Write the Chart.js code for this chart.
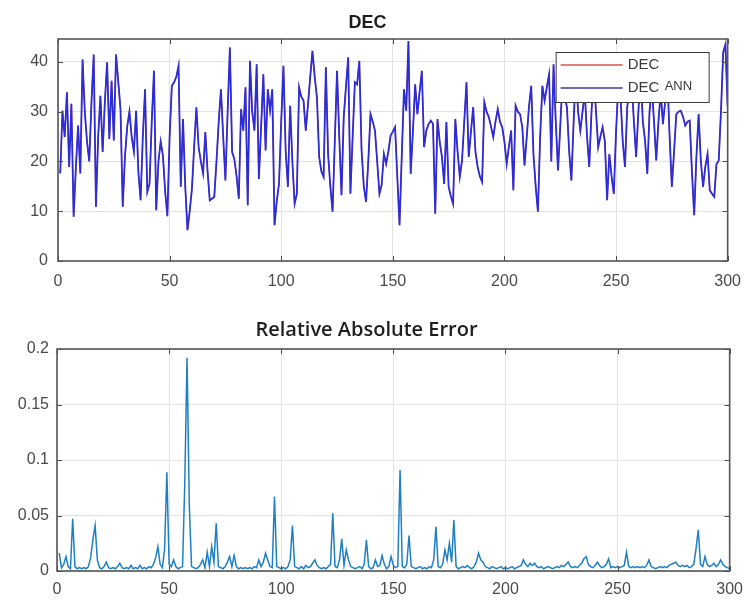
<!DOCTYPE html>
<html><head><meta charset="utf-8">
<script src="https://cdn.jsdelivr.net/npm/chart.js@4.4.1/dist/chart.umd.min.js"></script>
<style>
html,body{margin:0;padding:0;background:#fff;}
#wrap{position:relative;width:752px;height:601px;background:#fff;}
canvas{position:absolute;left:0;}
#c1{top:0}
#c2{top:300px}
</style></head><body>
<div id="wrap"><canvas id="c1" width="752" height="300"></canvas><canvas id="c2" width="752" height="301"></canvas></div>
<script>
// ---- data ----
const decValues = [
17.6,30.2,24.9,33.9,18.9,31.6,8.9,18.7,27.2,17.6,
40.5,30,24,20,32,41.5,10.9,25,33.2,21.9,
32,39.9,24.5,36.2,24.2,41.5,36,30.5,10.9,21,
27,30,25,22,30.2,18,12.2,25,34.5,13.9,
15.5,28,38.2,10.2,20,24,21.2,14,9,25,
35.2,35.9,37,39.2,14.9,28.5,15,6.2,10,14.5,
23,30.9,22.9,20,17.6,25.9,18,12.2,12.5,12.9,
20,28,34.5,25,16.2,30,42.9,21.9,20.5,17,
12.5,30.5,26.2,34.9,11.2,40.2,30,26.2,39.5,16.5,
27,37.5,22.2,34.5,30.2,34.5,7.2,12,15.5,28,
39.2,22,14.9,31.2,20,11.5,13.5,34.9,33,32.2,
26.2,31.5,37,42.2,37,32.9,20.9,18,16.9,38.9,
21.5,15,9.9,24,38.2,25,13.2,28.9,35,40.9,
13.5,25,35.9,35.5,40.2,22.2,15,11.9,20,29.5,
28,26.2,20,13.5,15.3,21.5,19.5,22,25.2,26,
26.9,17,7.2,21,34.5,30.2,44.2,17.5,26,35.5,
29.5,34,38.2,22.9,26.2,27.5,28.2,27.5,9.5,28.5,
24,20.9,15.5,27.9,14.9,13,11.5,28.5,22,16.9,
20.2,28,35.9,20.9,26,30.9,22,18.9,17,15.9,
31.9,30,28.9,27,24.9,28,30.5,28,26.9,24,
19.5,23,26.2,14.2,31.2,30,29.5,26.9,19.2,25,
31,35.2,21.5,15,9.9,25,35.2,32.2,35,37.5,
20,39.5,28,18.2,27,36,33,30.9,22,16.2,
28,38,30,26.2,30,34,25,18.9,30,37,
30.2,22.9,25,26.9,24,12.2,21.5,17,13.5,26,
35,33,24,18.9,30.9,34,36,28,20.9,30,
38,28,24.2,17.5,30,35,28.2,20.2,28,34,
27.5,32,37,25,14.9,22,29.5,30,30.2,29,
27.2,28,28.2,18,9.2,20.9,29.5,20,14.9,19,
21.5,14.2,13.5,12.9,19.5,20.2,30,41.9,43.5,31
];
const decAnnValues = decValues; // ANN output overlaps the measured series in the reference
const errValues = [
0.016,0.003,0.006,0.013,0.004,0.002,0.047,0.004,0.002,0.003,
0.002,0.003,0.002,0.004,0.012,0.028,0.041,0.010,0.003,0.002,
0.004,0.008,0.003,0.002,0.003,0.002,0.004,0.007,0.003,0.002,
0.003,0.002,0.005,0.002,0.003,0.002,0.005,0.002,0.003,0.002,
0.004,0.003,0.006,0.012,0.022,0.006,0.003,0.020,0.089,0.006,
0.004,0.010,0.004,0.002,0.003,0.004,0.080,0.192,0.060,0.004,
0.003,0.002,0.003,0.006,0.010,0.003,0.017,0.004,0.022,0.008,
0.043,0.004,0.003,0.002,0.004,0.008,0.013,0.004,0.014,0.004,
0.002,0.003,0.002,0.003,0.002,0.003,0.002,0.004,0.003,0.010,
0.004,0.008,0.016,0.010,0.004,0.003,0.067,0.004,0.003,0.002,
0.003,0.002,0.004,0.010,0.041,0.004,0.003,0.002,0.004,0.002,
0.005,0.003,0.004,0.007,0.010,0.005,0.003,0.002,0.003,0.002,
0.004,0.006,0.052,0.004,0.003,0.010,0.029,0.005,0.019,0.010,
0.004,0.003,0.002,0.003,0.004,0.002,0.006,0.028,0.004,0.002,
0.003,0.010,0.004,0.005,0.014,0.006,0.002,0.004,0.013,0.005,
0.003,0.004,0.091,0.004,0.003,0.006,0.032,0.004,0.003,0.002,
0.003,0.004,0.002,0.003,0.002,0.004,0.003,0.010,0.040,0.004,
0.003,0.006,0.019,0.010,0.025,0.008,0.046,0.004,0.002,0.003,
0.004,0.003,0.005,0.003,0.002,0.004,0.008,0.016,0.010,0.008,
0.004,0.003,0.002,0.004,0.003,0.002,0.003,0.004,0.002,0.003,
0.002,0.003,0.004,0.002,0.003,0.004,0.005,0.010,0.006,0.004,
0.007,0.005,0.007,0.004,0.003,0.004,0.002,0.003,0.004,0.003,
0.002,0.003,0.004,0.003,0.005,0.004,0.006,0.008,0.004,0.003,
0.004,0.003,0.005,0.007,0.011,0.013,0.006,0.004,0.003,0.005,
0.008,0.005,0.003,0.004,0.006,0.011,0.003,0.004,0.003,0.004,
0.003,0.004,0.005,0.017,0.004,0.003,0.004,0.003,0.004,0.003,
0.004,0.003,0.005,0.010,0.004,0.003,0.002,0.003,0.004,0.003,
0.004,0.003,0.005,0.006,0.007,0.008,0.005,0.004,0.005,0.004,
0.005,0.003,0.004,0.006,0.020,0.037,0.006,0.004,0.013,0.006,
0.004,0.005,0.007,0.004,0.006,0.010,0.006,0.004,0.003,0.002
];
const xTicks = [0,50,100,150,200,250,300];
const decTicks = [0,10,20,30,40];
const errTicks = [0,0.05,0.1,0.15,0.2];
const legendNames = ['DEC','DEC','ANN'];
const titleTop = 'DEC';
const titleBottom = 'Relative Absolute Error';

// ---- helpers ----
const toPoints = arr => arr.map((v,i)=>({x:i+1,y:v}));
const tickFont = {family:'"Liberation Sans", Arial, sans-serif', size:16};
const tickColor = '#4a4a4a';
const gridColor = '#e2e2e2';

const boxPlugin = {
  id:'boxTicks',
  afterDatasetsDraw(chart){
    const {ctx, chartArea:a, scales} = chart;
    ctx.save();
    ctx.strokeStyle = '#4d4d4d';
    ctx.lineWidth = 1;
    ctx.beginPath();
    scales.x.ticks.forEach(t=>{
      const px = Math.round(scales.x.getPixelForValue(t.value))+0.5;
      ctx.moveTo(px,a.bottom); ctx.lineTo(px,a.bottom-5);
      ctx.moveTo(px,a.top); ctx.lineTo(px,a.top+5);
    });
    scales.y.ticks.forEach(t=>{
      const py = Math.round(scales.y.getPixelForValue(t.value))+0.5;
      ctx.moveTo(a.left,py); ctx.lineTo(a.left+5,py);
      ctx.moveTo(a.right,py); ctx.lineTo(a.right-5,py);
    });
    ctx.stroke();
    ctx.lineWidth = 1.6;
    ctx.strokeStyle = '#555';
    ctx.strokeRect(a.left, a.top, a.right-a.left, a.bottom-a.top);
    ctx.restore();
  }
};

const legendColors = ['#d9534f', '#3b3b9c'];
const legendPlugin = {
  id:'insideLegend',
  afterDatasetsDraw(chart){
    const {ctx, chartArea:a} = chart;
    const w = 153, h = 50;
    const left = a.right - 19 - w, top = a.top + 13;
    ctx.save();
    ctx.fillStyle = '#fff';
    ctx.fillRect(left, top, w, h);
    ctx.strokeStyle = '#3c3c3c';
    ctx.lineWidth = 1;
    ctx.strokeRect(left+0.5, top+0.5, w, h);
    const rows = [top+13, top+36];
    legendColors.forEach((c,i)=>{
      ctx.strokeStyle = c;
      ctx.lineWidth = 1.5;
      ctx.beginPath();
      ctx.moveTo(left+5, rows[i]); ctx.lineTo(left+67, rows[i]);
      ctx.stroke();
    });
    ctx.fillStyle = '#3a3a3a';
    ctx.textBaseline = 'middle';
    ctx.font = '15px "Liberation Sans", Arial, sans-serif';
    ctx.fillText(legendNames[0], left+72, rows[0]);
    ctx.fillText(legendNames[1], left+72, rows[1]);
    ctx.font = '13px "Liberation Sans", Arial, sans-serif';
    ctx.fillText(legendNames[2], left+109, rows[1]-2);
    ctx.restore();
  }
};

function xScale(height, pad){
  return {
    type:'linear', min:0, max:300,
    afterBuildTicks: s => { s.ticks = xTicks.map(v=>({value:v})); },
    afterFit: s => { s.height = height; },
    ticks:{font:tickFont, color:tickColor, padding:pad, maxRotation:0, callback:v=>String(v)},
    grid:{color:gridColor, drawTicks:false, lineWidth:1},
    border:{display:false}
  };
}
function yScale(min,max,ticks,width,pad){
  return {
    type:'linear', min:min, max:max,
    afterBuildTicks: s => { s.ticks = ticks.map(v=>({value:v})); },
    afterFit: s => { s.width = width; },
    ticks:{font:tickFont, color:tickColor, padding:pad, callback:v=>String(v)},
    grid:{color:gridColor, drawTicks:false, lineWidth:1},
    border:{display:false}
  };
}

new Chart(document.getElementById('c1'), {
  type:'line',
  data:{datasets:[
    {label:'DEC ANN', data:toPoints(decAnnValues), borderColor:'rgb(45,45,215)', borderWidth:1.8, pointRadius:0, tension:0, order:1},
    {label:'DEC', data:toPoints(decValues), borderColor:'#d94a4a', borderWidth:1.2, pointRadius:0, tension:0, order:2}
  ]},
  options:{
    responsive:false, animation:false, devicePixelRatio:1,
    layout:{padding:{left:0,right:17,top:0,bottom:0}},
    plugins:{
      legend:{display:false}, tooltip:{enabled:false},
      title:{display:true, text:titleTop, color:'#1e1e1e',
        font:{family:'"Liberation Sans", Arial, sans-serif', size:18, weight:'bold', lineHeight:1},
        padding:{top:14,bottom:7}}
    },
    scales:{ x:xScale(39,11), y:yScale(0,44.6,decTicks,58,10) }
  },
  plugins:[boxPlugin, legendPlugin]
});

new Chart(document.getElementById('c2'), {
  type:'line',
  data:{datasets:[
    {label:'Relative Absolute Error', data:toPoints(errValues), borderColor:'#1f7fc4', borderWidth:1.5, pointRadius:0, tension:0}
  ]},
  options:{
    responsive:false, animation:false, devicePixelRatio:1,
    layout:{padding:{left:0,right:19,top:0,bottom:0}},
    plugins:{
      legend:{display:false}, tooltip:{enabled:false},
      title:{display:true, text:titleBottom, color:'#1e1e1e',
        font:{family:'"Open Sans", sans-serif', size:20, weight:'600', lineHeight:1},
        padding:{top:20,bottom:9}}
    },
    scales:{ x:xScale(30,9), y:yScale(0,0.2,errTicks,57,8) }
  },
  plugins:[boxPlugin]
});
</script>
</body></html>
